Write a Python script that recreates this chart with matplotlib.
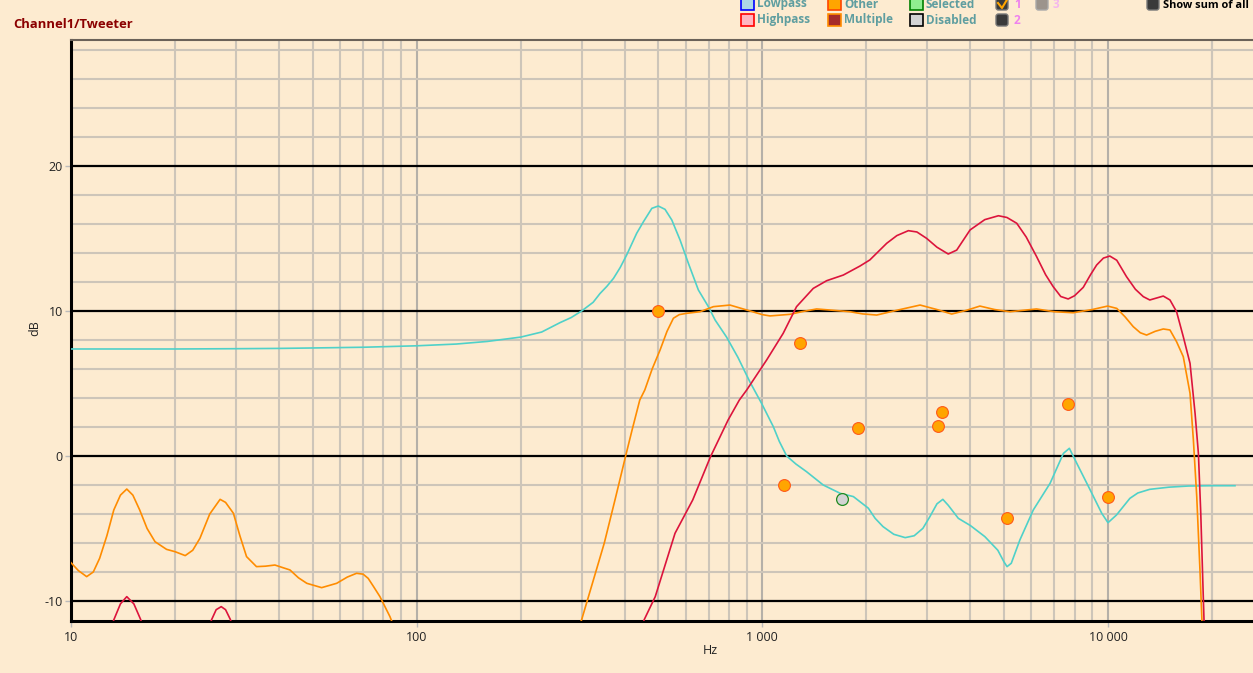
import numpy as np
import matplotlib
matplotlib.use('Agg')
import matplotlib.pyplot as plt
from matplotlib.patches import Rectangle, FancyBboxPatch
from matplotlib.lines import Line2D
from matplotlib.ticker import FixedLocator, FuncFormatter, NullLocator

plt.rcParams['font.family'] = ['Open Sans', 'DejaVu Sans']

# ---------------- data ----------------
cyan_hz = [10, 20, 30, 40, 50, 70, 100, 130, 160, 200, 230, 260, 280, 300, 324, 339, 355, 371, 388,
           405, 433, 453, 479, 500, 523, 547, 578, 611, 653, 698, 730, 788, 850, 920, 995, 1076,
           1120, 1176, 1250, 1342, 1500, 1678, 1834, 2026, 2120, 2234, 2400, 2590, 2750, 2914,
           3050, 3200, 3328, 3450, 3690, 4000, 4402, 4800, 5000, 5104, 5250, 5560, 6080, 6800,
           7430, 7730, 8120, 8880, 9590, 10000, 10580, 11570, 12200, 13200, 15000, 17100, 20000,
           23300]
cyan_db = [7.38, 7.38, 7.40, 7.42, 7.45, 7.50, 7.60, 7.72, 7.90, 8.20, 8.55, 9.20, 9.55, 10.0, 10.6,
           11.2, 11.7, 12.25, 13.0, 13.86, 15.36, 16.16, 17.08, 17.24, 17.01, 16.28, 14.9, 13.29,
           11.45, 10.3, 9.38, 8.2, 6.8, 5.12, 3.63, 2.02, 1.0, 0.0, -0.55, -1.08, -2.0, -2.57,
           -2.8, -3.6, -4.3, -4.87, -5.4, -5.63, -5.5, -4.99, -4.2, -3.3, -2.99, -3.4, -4.30,
           -4.8, -5.56, -6.5, -7.3, -7.63, -7.4, -5.79, -3.72, -1.88, 0.18, 0.53, -0.5, -2.34,
           -3.95, -4.6, -4.07, -2.92, -2.55, -2.3, -2.15, -2.07, -2.05, -2.05]

orange_hz = [10, 10.5, 11.1, 11.6, 12.1, 12.7, 13.3, 13.9, 14.5, 15.1, 15.8, 16.6, 17.5, 18.9, 20,
             21.4, 22.5, 23.6, 25.2, 27.0, 28.0, 29.5, 30.8, 32.2, 34.4, 36.5, 38.9, 41, 43.0,
             45.5, 48.1, 53.1, 58.7, 63, 67.0, 70, 72.4, 75, 78.3, 83.7, 90, 280, 300, 325, 349,
             375, 404, 420, 442, 457, 480, 506, 530, 553, 575, 604, 660, 722, 806, 901, 1000,
             1052, 1202, 1300, 1436, 1600, 1792, 1950, 2142, 2450, 2860, 3200, 3530, 3900, 4260,
             4700, 5200, 5700, 6210, 7000, 7930, 9000, 9980, 10600, 11200, 11830, 12400, 12930,
             13700, 14450, 15110, 15790, 16510, 17270, 17660, 18060, 18450, 18700, 19000]
orange_db = [-7.36, -7.9, -8.32, -8.0, -7.06, -5.5, -3.72, -2.7, -2.28, -2.7, -3.72, -5.0, -5.91,
             -6.44, -6.6, -6.87, -6.5, -5.68, -4.0, -2.99, -3.2, -3.95, -5.5, -6.94, -7.63, -7.6,
             -7.52, -7.7, -7.86, -8.4, -8.78, -9.08, -8.78, -8.35, -8.09, -8.15, -8.44, -9.0,
             -9.7, -11.08, -13, -13, -11.3, -8.5, -6.0, -3.0, 0.18, 1.8, 3.86, 4.55, 6.0, 7.31,
             8.6, 9.5, 9.75, 9.84, 9.95, 10.3, 10.41, 10.07, 9.75, 9.66, 9.77, 9.95, 10.14,
             10.05, 9.95, 9.8, 9.72, 10.05, 10.41, 10.1, 9.79, 10.05, 10.34, 10.1, 9.95, 10.05,
             10.14, 9.95, 9.88, 10.1, 10.34, 10.18, 9.6, 8.92, 8.5, 8.34, 8.6, 8.76, 8.69, 7.88,
             6.85, 4.32, 1.1, -2.8, -7.86, -11.4, -14]

red_hz = [12.8, 13.3, 13.9, 14.5, 15.2, 15.9, 16.5, 24.5, 25.5, 26.3, 27.2, 28.0, 28.9, 30, 440,
          455, 490, 559, 629, 708, 796, 858, 901, 1029, 1149, 1256, 1404, 1535, 1715, 1916, 2046,
          2290, 2450, 2645, 2800, 2987, 3200, 3450, 3650, 3990, 4400, 4820, 5100, 5445, 5800,
          6215, 6600, 6940, 7300, 7670, 8000, 8480, 8900, 9270, 9700, 10120, 10600, 11310,
          12000, 12650, 13210, 14450, 15110, 15790, 16510, 17270, 17860, 18260, 18550, 18800,
          18960, 19200]
red_db = [-12.5, -11.3, -10.2, -9.7, -10.2, -11.27, -12.5, -12.5, -11.3, -10.6, -10.39, -10.6,
          -11.27, -12.5, -12.5, -11.3, -9.7, -5.33, -3.03, -0.05, 2.48, 3.86, 4.55, 6.62, 8.46,
          10.3, 11.56, 12.09, 12.48, 13.1, 13.52, 14.67, 15.2, 15.54, 15.45, 15.01, 14.4, 13.93,
          14.2, 15.59, 16.3, 16.57, 16.45, 16.05, 15.1, 13.75, 12.5, 11.68, 11.0, 10.83, 11.05,
          11.63, 12.5, 13.17, 13.65, 13.79, 13.5, 12.37, 11.5, 10.99, 10.76, 11.03, 10.76, 9.95,
          8.23, 6.39, 2.94, 0.18, -3.95, -8.55, -11.4, -14]

point_hz = [500, 1155, 1285, 1890, 3222, 3308, 5100, 7656, 10000]
point_db = [10.0, -2.0, 7.8, 1.9, 2.1, 3.0, -4.3, 3.6, -2.8]
selected_hz = [1700]
selected_db = [-3.0]

xtick_vals = [10, 100, 1000, 10000]
ytick_vals = [-10, 0, 10, 20]

# ---------------- figure ----------------
BG = '#fdebd0'
W, H = 1253, 673
fig = plt.figure(figsize=(W / 100, H / 100), dpi=100, facecolor=BG)

ax_l, ax_r, ax_t, ax_b = 71, 1253, 40, 621
ax = fig.add_axes([ax_l / W, 1 - ax_b / H, (ax_r - ax_l) / W, (ax_b - ax_t) / H])
ax.set_facecolor(BG)
ax.set_xscale('log')
ax.set_xlim(10, 26270)
ax.set_ylim(-11.38, 28.69)

# grid
minor_x = [m * 10 ** e for e in range(1, 5) for m in range(2, 10)] + [20000]
for xv in minor_x:
    if xv < 26270:
        ax.axvline(xv, color='#cdc5b9', lw=1.5, zorder=1)
for xv in [100, 1000, 10000]:
    ax.axvline(xv, color='#b5b0a8', lw=1.5, zorder=1)
for yv in np.arange(-10, 29, 2):
    if yv % 10 != 0:
        ax.axhline(yv, color='#cdc5b9', lw=1.5, zorder=1)
for yv in ytick_vals:
    ax.axhline(yv, color='black', lw=1.6, zorder=2)

# curves
ax.plot(cyan_hz, cyan_db, color='#4fd1c9', lw=1.2, zorder=3)
ax.plot(orange_hz, orange_db, color='#ff8c00', lw=1.2, zorder=4)
ax.plot(red_hz, red_db, color='#dc143c', lw=1.2, zorder=5)
ax.plot(point_hz, point_db, 'o', ms=8.5, mfc='#ffa500', mec='#ff5a1a', mew=0.8, zorder=6)
ax.plot(selected_hz, selected_db, 'o', ms=8.5, mfc='#d3d3d3', mec='#1f8a1f', mew=0.9, zorder=6)

# ticks
ax.xaxis.set_major_locator(FixedLocator(xtick_vals))
ax.xaxis.set_minor_locator(NullLocator())
ax.yaxis.set_major_locator(FixedLocator(ytick_vals))
ax.yaxis.set_minor_locator(NullLocator())
ax.xaxis.set_major_formatter(FuncFormatter(lambda v, p: f"{int(round(v)):,}".replace(',', ' ')))
ax.yaxis.set_major_formatter(FuncFormatter(lambda v, p: f"{int(v)}"))
ax.tick_params(axis='both', colors='#bbbbbb', labelcolor='#222222', labelsize=9, length=4, width=1)
ax.tick_params(axis='x', pad=3)
ax.tick_params(axis='y', pad=2)

ax.set_xlabel('Hz', fontsize=9, color='#222222')
ax.set_ylabel('dB', fontsize=9, color='#222222')
ax.xaxis.set_label_coords((710 - ax_l) / (ax_r - ax_l), -(651 - ax_b) / (ax_b - ax_t))
ax.yaxis.set_label_coords(-(ax_l - 35) / (ax_r - ax_l), (ax_b - 328) / (ax_b - ax_t))
ax.xaxis.label.set_va('center')
ax.yaxis.label.set_va('center')

ax.spines['right'].set_visible(False)
ax.spines['left'].set_color('black')
ax.spines['left'].set_linewidth(2.2)
ax.spines['bottom'].set_color('black')
ax.spines['bottom'].set_linewidth(2.2)
ax.spines['top'].set_color('#6b6259')
ax.spines['top'].set_linewidth(1.5)

# ---------------- overlay (title + legend) ----------------
ov = fig.add_axes([0, 0, 1, 1], zorder=10)
ov.set_xlim(0, W)
ov.set_ylim(H, 0)
ov.axis('off')
ov.patch.set_visible(False)

ov.text(13, 25, 'Channel1/Tweeter', color='#8b0000', fontsize=9.4, fontweight='bold',
        va='center', ha='left')

label_col = '#5f9ea0'
def sq(x, yc, fc, ec):
    ov.add_patch(Rectangle((x, yc - 6), 13, 12, facecolor=fc, edgecolor=ec, lw=1.2))

rows = [4, 20]
items = [
    (741, rows[0], '#add8e6', '#0000ff', 'Lowpass'),
    (741, rows[1], '#ffb6c1', '#ff0000', 'Highpass'),
    (828, rows[0], '#ffa500', '#ff4500', 'Other'),
    (828, rows[1], '#a52a2a', '#ff8c00', 'Multiple'),
    (910, rows[0], '#90ee90', '#008000', 'Selected'),
    (910, rows[1], '#d3d3d3', '#000000', 'Disabled'),
]
for x, y, fc, ec, t in items:
    sq(x, y, fc, ec)
    ov.text(x + 16, y, t, color=label_col, fontsize=8.5, fontweight='bold', va='center', ha='left')

def cbox(x, yc, fc, ec='#777777'):
    ov.add_patch(FancyBboxPatch((x + 1, yc - 6), 12, 12, boxstyle='round,pad=0,rounding_size=2.5',
                                facecolor=fc, edgecolor=ec, lw=1))

cbox(995, rows[0], '#3a3a3a')
ov.add_line(Line2D([998, 1002, 1008], [3, 8, -2], color='#ffa500', lw=1.5))
ov.text(1014, rows[0] + 1, '1', color='#ee82ee', fontsize=8.5, fontweight='bold', va='center')
cbox(995, rows[1], '#3a3a3a')
ov.text(1014, rows[1] + 1, '2', color='#ee82ee', fontsize=8.5, fontweight='bold', va='center')
cbox(1035, rows[0], '#9c948c', '#aaaaaa')
ov.text(1053, rows[0] + 1, '3', color='#f4b6ee', fontsize=8.5, fontweight='bold', va='center')
cbox(1146, rows[0], '#3a3a3a')
ov.text(1163, rows[0] + 1, 'Show sum of all', color='black', fontsize=7.9, fontweight='bold',
        va='center', ha='left')

fig.savefig('out.png', dpi=100, facecolor=BG)
